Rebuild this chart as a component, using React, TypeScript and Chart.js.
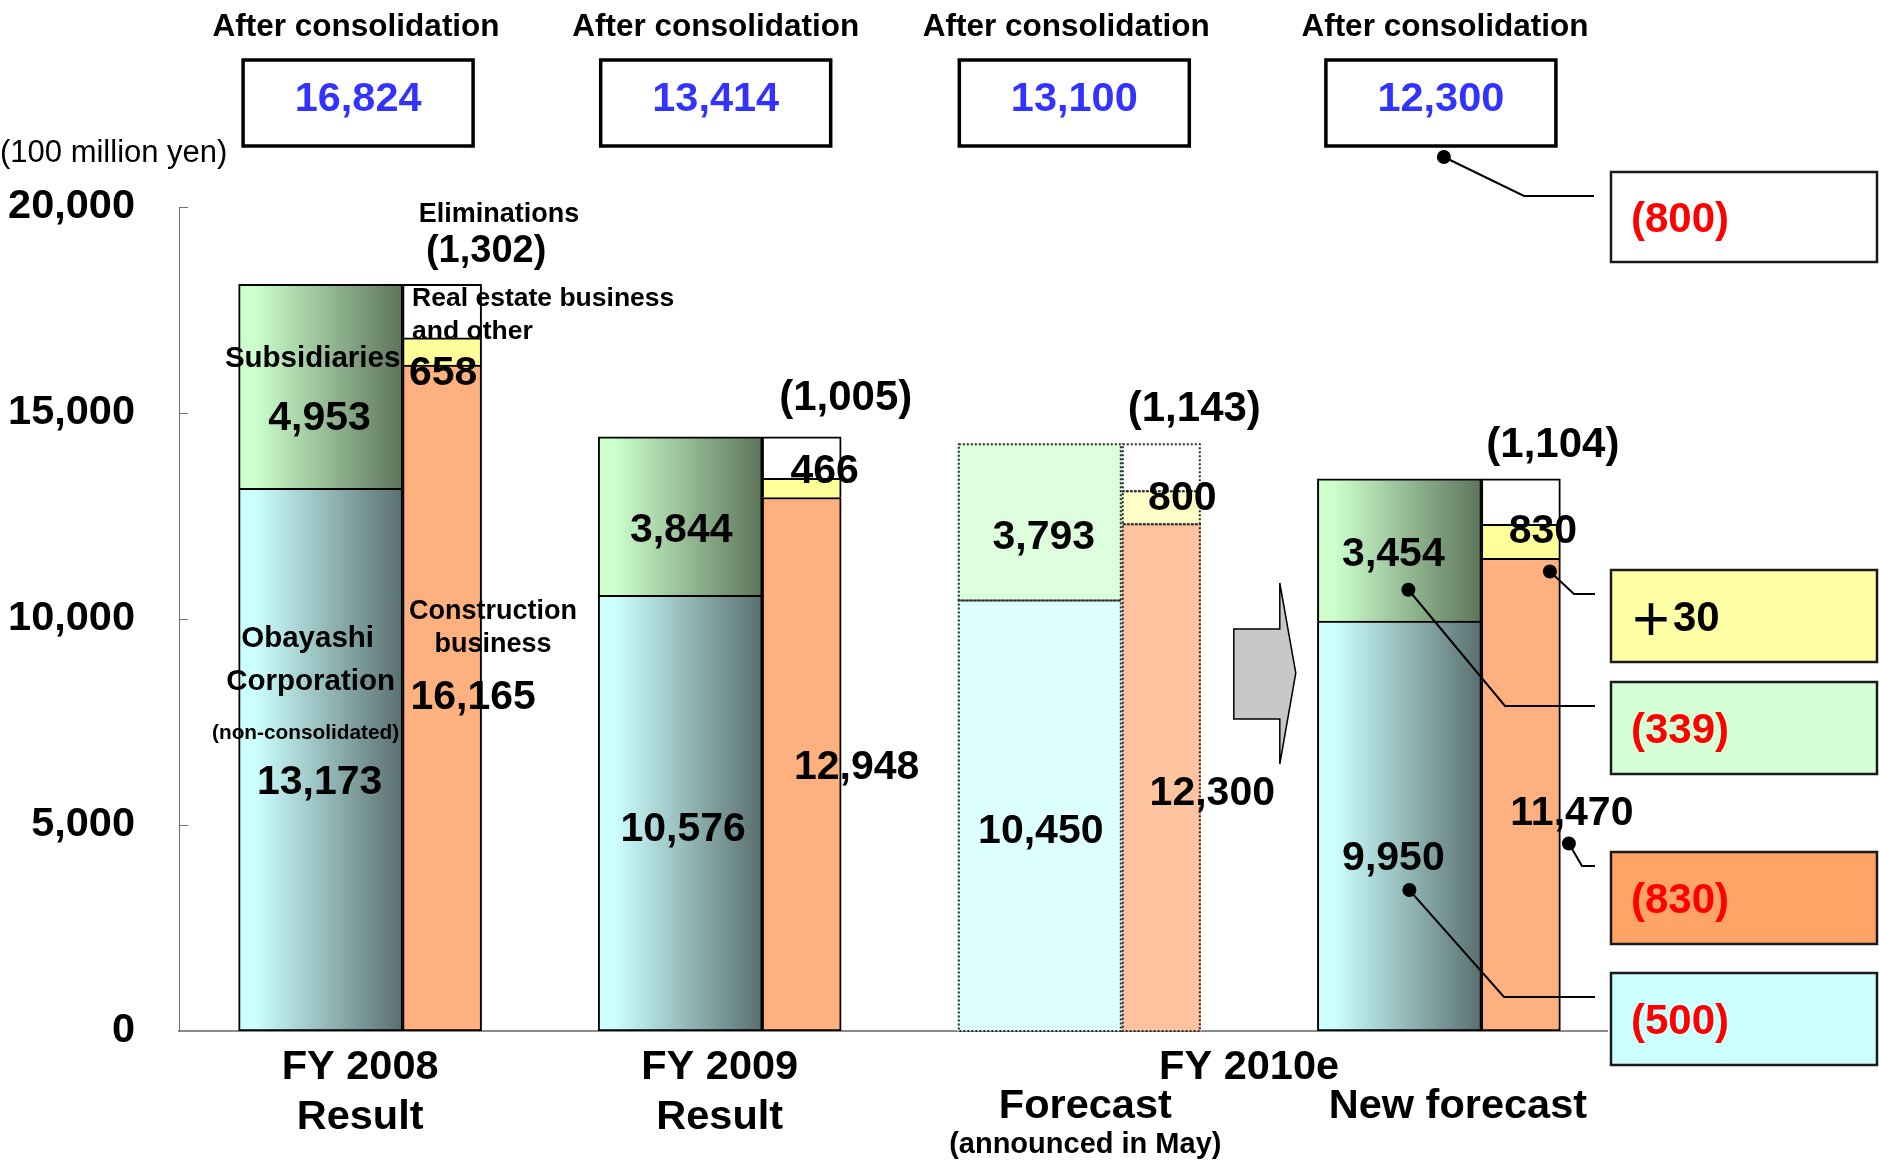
import React, { useEffect, useRef } from 'react';
import { Chart, registerables } from 'chart.js';

Chart.register(...registerables);

// Net sales by segment (100 million yen)
const periods = ['FY 2008', 'FY 2009', 'FY 2010e Forecast', 'FY 2010e New forecast'];
const obayashiNonConsolidated = [13173, 10576, 10450, 9950];
const subsidiaries = [4953, 3844, 3793, 3454];
const constructionBusiness = [16165, 12948, 12300, 11470];
const realEstateAndOther = [658, 466, 800, 830];
const eliminations = [1302, 1005, 1143, 1104];
const afterConsolidation = [16824, 13414, 13100, 12300];
const yTickValues = [0, 5000, 10000, 15000, 20000];

const periodYears = ['FY 2008', 'FY 2009', 'FY 2010e', 'FY 2010e'];
const periodKinds = ['Result', 'Result', 'Forecast', 'New forecast'];
const forecastNote = '(announced in May)';
const unitLabel = '(100 million yen)';
const headerLabel = 'After consolidation';

const FONT = '"Liberation Sans", Arial, sans-serif';
const LEFT_W = 164;
const RIGHT_W = 79;
const FORECAST = 2;
const NEW = 3;
const RED = '#FF0000';

const fmt = (v: number) => v.toLocaleString('en-US');
const paren = (v: number) => `(${fmt(v)})`;
const points = (vals: number[]) => vals.map((y, x) => ({ x, y }));

function text(
  ctx: CanvasRenderingContext2D,
  s: string,
  x: number,
  y: number,
  size: number,
  opts: { color?: string; align?: CanvasTextAlign; weight?: string; baseline?: CanvasTextBaseline; family?: string } = {}
) {
  ctx.save();
  ctx.font = `${opts.weight ?? 'bold'} ${size}px ${opts.family ?? FONT}`;
  ctx.fillStyle = opts.color ?? '#000';
  ctx.textAlign = opts.align ?? 'center';
  ctx.textBaseline = opts.baseline ?? 'middle';
  ctx.fillText(s, x, y);
  ctx.restore();
}

// Horizontal shading for the company / subsidiaries column, flat for the May forecast
function leftFill(light: string, dark: string, flat: string) {
  return (c: any) => {
    if (c.type !== 'data') return light;
    if (c.dataIndex === FORECAST) return flat;
    const chart = c.chart;
    const xs = chart.scales.x;
    if (!xs || !chart.chartArea) return light;
    const edge = xs.getPixelForValue(c.dataIndex);
    const g = chart.ctx.createLinearGradient(edge - LEFT_W, 0, edge, 0);
    g.addColorStop(0, light);
    g.addColorStop(0.1, light);
    g.addColorStop(1, dark);
    return g;
  };
}
const flatFill = (solid: string, faded: string) => (c: any) =>
  c.type === 'data' && c.dataIndex === FORECAST ? faded : solid;
const borderW = (c: any) => (c.type === 'data' && c.dataIndex === FORECAST ? 0 : 2);

// label offsets from each segment's top centre
const VALUE_OFFSETS: [number, number][][] = [
  [[-1, 294], [3, 234], [1, 231], [-6, 238]],
  [[-1, 134], [1, 94], [4, 93], [-6, 76]],
  [[31, 333], [55, 270], [51, 269], [51, 255]],
  [[1, 36], [23, -7], [21, 7], [22, 7]],
  [[44, -33], [44, -39], [33, -35], [32, -33]],
];
const VALUE_SIZES = [
  [41, 41, 41, 41],
  [41, 41, 41, 41],
  [41, 41, 41, 41],
  [41, 41, 41, 41],
  [38, 42, 42, 42],
];
const HEAD_DX = [-4, -4, -13, 6];
const BOX_DX = [-2, -4, -5, 2];

const overlayPlugin = {
  id: 'segmentOverlay',
  afterDatasetsDraw(chart: any) {
    const ctx: CanvasRenderingContext2D = chart.ctx;
    const xs = chart.scales.x;
    const ys = chart.scales.y;
    const area = chart.chartArea;
    const bar = (ds: number, i: number) => chart.getDatasetMeta(ds).data[i] as any;
    const groupCenter = (i: number) => xs.getPixelForValue(i) - (LEFT_W - RIGHT_W) / 2;

    // dotted outline of the May forecast columns
    ctx.save();
    ctx.strokeStyle = '#2a2a2a';
    ctx.lineWidth = 2;
    ctx.setLineDash([2, 2]);
    for (let ds = 0; ds < 5; ds++) {
      const b = bar(ds, FORECAST);
      if (!b) continue;
      ctx.strokeRect(b.x - b.width / 2 + 1, b.y, b.width - 2, b.base - b.y);
    }
    ctx.restore();

    // inward tick marks on the value axis
    ctx.save();
    ctx.strokeStyle = '#6e6e6e';
    ctx.lineWidth = 1;
    for (const v of yTickValues) {
      if (v === 0) continue;
      const y = Math.round(ys.getPixelForValue(v)) + 0.5;
      ctx.beginPath();
      ctx.moveTo(area.left, y);
      ctx.lineTo(area.left + 9, y);
      ctx.stroke();
    }
    ctx.restore();

    // segment values
    const series = [obayashiNonConsolidated, subsidiaries, constructionBusiness, realEstateAndOther, eliminations];
    series.forEach((vals, ds) =>
      vals.forEach((v, i) => {
        const b = bar(ds, i);
        const [dx, dy] = VALUE_OFFSETS[ds][i];
        text(ctx, ds === 4 ? paren(v) : fmt(v), b.x + dx, b.y + dy, VALUE_SIZES[ds][i]);
      })
    );

    // segment captions on the first period
    const captions: [number, string, number, number, number, CanvasTextAlign][] = [
      [4, 'Eliminations', 57, -70, 27, 'center'],
      [4, 'Real estate business', -30, 14, 26.5, 'left'],
      [4, 'and other', -30, 47, 26.5, 'left'],
      [1, 'Subsidiaries', -8, 75, 29.5, 'center'],
      [0, 'Obayashi', -13, 151, 29.5, 'center'],
      [0, 'Corporation', -10, 194, 29.5, 'center'],
      [0, '(non-consolidated)', -15, 245, 20.8, 'center'],
      [2, 'Construction', 51, 247, 27, 'center'],
      [2, 'business', 51, 280, 27, 'center'],
    ];
    for (const [ds, s, dx, dy, size, align] of captions) {
      const b = bar(ds, 0);
      text(ctx, s, b.x + dx, b.y + dy, size, { align });
    }

    // arrow from the May forecast to the new forecast
    const ax = xs.getPixelForValue(FORECAST) + 112;
    ctx.save();
    ctx.beginPath();
    ctx.moveTo(ax, 629);
    ctx.lineTo(ax + 46, 629);
    ctx.lineTo(ax + 46, 583);
    ctx.lineTo(ax + 62, 673);
    ctx.lineTo(ax + 46, 764);
    ctx.lineTo(ax + 46, 719);
    ctx.lineTo(ax, 719);
    ctx.closePath();
    ctx.fillStyle = '#C8C8C8';
    ctx.fill();
    ctx.strokeStyle = '#000';
    ctx.lineWidth = 1.5;
    ctx.stroke();
    ctx.restore();

    // change boxes (new forecast vs May forecast)
    const boxL = 1611;
    const boxR = 1877;
    const changes = [
      { top: 172, bottom: 262, fill: '#FFFFFF', d: afterConsolidation[NEW] - afterConsolidation[FORECAST] },
      { top: 570, bottom: 662, fill: '#FFFFA6', d: realEstateAndOther[NEW] - realEstateAndOther[FORECAST] },
      { top: 682, bottom: 774, fill: '#D5FFD5', d: subsidiaries[NEW] - subsidiaries[FORECAST] },
      { top: 852, bottom: 944, fill: '#FFA366', d: constructionBusiness[NEW] - constructionBusiness[FORECAST] },
      { top: 973, bottom: 1065, fill: '#CCFFFF', d: obayashiNonConsolidated[NEW] - obayashiNonConsolidated[FORECAST] },
    ];
    for (const c of changes) {
      ctx.save();
      ctx.fillStyle = c.fill;
      ctx.fillRect(boxL, c.top, boxR - boxL, c.bottom - c.top);
      ctx.strokeStyle = '#1a1a1a';
      ctx.lineWidth = 2.5;
      ctx.strokeRect(boxL, c.top, boxR - boxL, c.bottom - c.top);
      ctx.restore();
      const cy = (c.top + c.bottom) / 2 + 3;
      if (c.d < 0) {
        text(ctx, paren(-c.d), 1631, cy, 42, { align: 'left', color: RED });
      } else {
        text(ctx, '＋', 1651, cy, 44, { color: '#000', family: '"Noto Sans CJK JP", sans-serif' });
        text(ctx, fmt(c.d), 1673, cy, 42, { align: 'left', color: '#000' });
      }
    }

    // leader lines with dots
    const con = bar(2, NEW);
    const sub = bar(1, NEW);
    const oba = bar(0, NEW);
    const leaders: [number, number, number, number, number][] = [
      [groupCenter(NEW) + 5, 157, 1524, 196, 1594],
      [con.x + 29, con.y + 13, 1574, 594, 1595],
      [sub.x + 9, sub.y + 111, 1505, 706, 1595],
      [con.x + 48, con.y + 285, 1582, 866, 1595],
      [oba.x + 10, oba.y + 269, 1504, 997, 1595],
    ];
    ctx.save();
    ctx.strokeStyle = '#000';
    ctx.fillStyle = '#000';
    ctx.lineWidth = 2;
    for (const [x0, y0, ex, ey, x1] of leaders) {
      ctx.beginPath();
      ctx.moveTo(x0, y0);
      ctx.lineTo(ex, ey);
      ctx.lineTo(x1, ey);
      ctx.stroke();
      ctx.beginPath();
      ctx.arc(x0, y0, 7, 0, Math.PI * 2);
      ctx.fill();
    }
    ctx.restore();

    // consolidated totals above each period
    afterConsolidation.forEach((v, i) => {
      const gc = groupCenter(i);
      text(ctx, headerLabel, gc + HEAD_DX[i], 36, 31.5, { baseline: 'alphabetic' });
      const bx = gc + BOX_DX[i];
      ctx.save();
      ctx.strokeStyle = '#000';
      ctx.lineWidth = 3.5;
      ctx.strokeRect(bx - 115, 60, 230, 86);
      ctx.restore();
      text(ctx, fmt(v), bx, 100, 41.5, { color: '#3333FF' });
    });

    text(ctx, unitLabel, 0, 153, 31, { weight: 'normal', align: 'left' });

    // period labels under the axis
    for (let i = 0; i < 2; i++) {
      const gc = groupCenter(i);
      text(ctx, periodYears[i], gc, 1068, 41.5);
      text(ctx, periodKinds[i], gc, 1118, 41.5);
    }
    const g2 = groupCenter(FORECAST);
    const g3 = groupCenter(NEW);
    text(ctx, periodYears[FORECAST], (g2 + g3) / 2 - 10, 1068, 41.5);
    text(ctx, periodKinds[FORECAST], g2 + 6, 1107, 41.5);
    text(ctx, forecastNote, g2 + 6, 1145, 29);
    text(ctx, periodKinds[NEW], g3 + 19, 1107, 41.5);
  },
};

export default function App() {
  const canvasRef = useRef<HTMLCanvasElement | null>(null);

  useEffect(() => {
    const canvas = canvasRef.current;
    if (!canvas) return;
    Chart.defaults.font.family = FONT;

    const chart = new Chart(canvas, {
      type: 'bar',
      data: {
        labels: periods,
        datasets: [
          {
            label: 'Obayashi Corporation (non-consolidated)',
            data: points(obayashiNonConsolidated),
            stack: 'company',
            barThickness: LEFT_W,
            backgroundColor: leftFill('#CCFFFF', '#5A6F6F', '#DDFFFF'),
            borderColor: '#000',
            borderWidth: borderW,
            borderSkipped: false,
          },
          {
            label: 'Subsidiaries',
            data: points(subsidiaries),
            stack: 'company',
            barThickness: LEFT_W,
            backgroundColor: leftFill('#CCFFCC', '#5D745B', '#DDFFDD'),
            borderColor: '#000',
            borderWidth: borderW,
            borderSkipped: 'start',
          },
          {
            label: 'Construction business',
            data: points(constructionBusiness),
            stack: 'business',
            barThickness: RIGHT_W,
            backgroundColor: flatFill('#FFB07F', '#FFC39F'),
            borderColor: '#000',
            borderWidth: borderW,
            borderSkipped: false,
          },
          {
            label: 'Real estate business and other',
            data: points(realEstateAndOther),
            stack: 'business',
            barThickness: RIGHT_W,
            backgroundColor: flatFill('#FFFF99', '#FFFFC8'),
            borderColor: '#000',
            borderWidth: borderW,
            borderSkipped: 'start',
          },
          {
            label: 'Eliminations',
            data: points(eliminations),
            stack: 'business',
            barThickness: RIGHT_W,
            backgroundColor: '#FFFFFF',
            borderColor: '#000',
            borderWidth: borderW,
            borderSkipped: 'start',
          },
        ],
      } as any,
      options: {
        responsive: false,
        animation: false,
        devicePixelRatio: 1,
        layout: { padding: { left: 0, top: 207, right: 272, bottom: 0 } },
        plugins: {
          legend: { display: false },
          tooltip: { enabled: false },
          title: { display: false },
        },
        scales: {
          x: {
            type: 'linear',
            min: -0.6218,
            max: 3.3493,
            stacked: true,
            offset: false,
            grid: { display: false, drawTicks: false },
            ticks: { display: false },
            border: { display: true, color: '#8a8a8a', width: 2 },
            afterFit: (s: any) => {
              s.height = 129;
            },
          },
          y: {
            type: 'linear',
            min: 0,
            max: 20000,
            stacked: true,
            grid: { display: false, drawTicks: false },
            border: { display: true, color: '#6e6e6e', width: 1 },
            afterBuildTicks: (s: any) => {
              s.ticks = yTickValues.map((value) => ({ value }));
            },
            ticks: {
              padding: 44,
              color: '#000',
              font: { family: FONT, size: 41.5, weight: 'bold' },
              callback: (v: any) => Number(v).toLocaleString('en-US'),
            },
            afterFit: (s: any) => {
              s.width = 179;
            },
          },
        },
      } as any,
      plugins: [overlayPlugin],
    });

    return () => chart.destroy();
  }, []);

  return (
    <div style={{ position: 'fixed', left: 0, top: 0, width: 1879, height: 1160, background: '#fff' }}>
      <canvas ref={canvasRef} width={1879} height={1160} style={{ display: 'block', width: 1879, height: 1160 }} />
    </div>
  );
}
